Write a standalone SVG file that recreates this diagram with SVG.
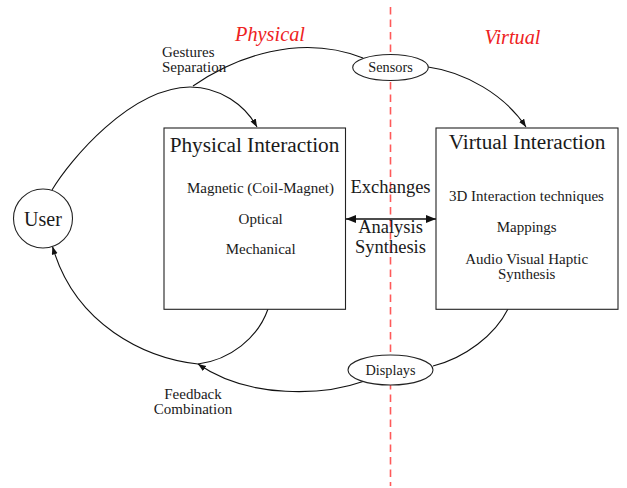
<svg xmlns="http://www.w3.org/2000/svg" width="627" height="488" viewBox="0 0 627 488">
<defs>
<style>
text{font-family:"Liberation Serif","Times New Roman",serif;fill:#1a1a1a;text-anchor:middle}
.sm{font-size:15px}
.md{font-size:18.5px}
.lg{font-size:21.3px}
.red{font-size:20.3px;font-style:italic;fill:#ee2222}
.edge{fill:none;stroke:#111;stroke-width:1.1}
.box{fill:#fff;stroke:#222;stroke-width:1.1}
.sep{stroke:#ff5a5a;stroke-width:1.6;stroke-dasharray:7.5 5}
</style>
<marker id="arr" markerUnits="userSpaceOnUse" markerWidth="10" markerHeight="8" refX="8" refY="3" orient="auto">
<path d="M0,0 L8,3 L0,6 Z" fill="#111"/>
</marker>
<marker id="arrBig" markerUnits="userSpaceOnUse" markerWidth="12" markerHeight="10" refX="10" refY="4" orient="auto-start-reverse">
<path d="M0,0 L10,4 L0,8 Z" fill="#111"/>
</marker>
</defs>
<rect width="627" height="488" fill="#fff"/>
<line class="sep" x1="390.5" y1="7" x2="390.5" y2="486"/>
<text class="red" x="270" y="41">Physical</text>
<text class="red" x="512.5" y="44">Virtual</text>
<g id="connectors">
<path class="edge" d="M52,190 C70,160 130,88 190,87 C220,87 245,105 257,127" marker-end="url(#arr)"/>
<path class="edge" d="M193,86 C235,57 300,33 363,58"/>
<path class="edge" d="M428,67 C465,72 505,95 526,127" marker-end="url(#arr)"/>
<path class="edge" d="M508,309 C495,335 465,358 433,366"/>
<path class="edge" d="M363,381.5 C325,395 250,400 198,364" marker-end="url(#arr)"/>
<path class="edge" d="M268,309 C258,338 230,360 198,364 C145,358 75,325 52.5,246.5" marker-end="url(#arr)"/>
<path d="M346,219 L436,219" fill="none" stroke="#111" stroke-width="1.7" marker-start="url(#arrBig)" marker-end="url(#arrBig)"/>
<text class="sm" x="162" y="57" style="text-anchor:start">Gestures</text>
<text class="sm" x="162" y="72" style="text-anchor:start">Separation</text>
<text class="sm" x="193" y="399">Feedback</text>
<text class="sm" x="193" y="414">Combination</text>
<text class="md" x="390.5" y="192.7">Exchanges</text>
<text class="md" x="390.5" y="233.3">Analysis</text>
<text class="md" x="390.5" y="252.7">Synthesis</text>
</g>
<g id="user">
<circle cx="43" cy="218.5" r="29.5" class="box"/>
<text class="lg" x="43" y="225.5" style="font-size:20px">User</text>
</g>
<g id="physical">
<rect class="box" x="164" y="128" width="181.5" height="181.3"/>
<text class="lg" x="254.5" y="151.7">Physical Interaction</text>
<text class="sm" x="260.5" y="193.3">Magnetic (Coil-Magnet)</text>
<text class="sm" x="260.7" y="224">Optical</text>
<text class="sm" x="260.7" y="254">Mechanical</text>
</g>
<g id="virtual">
<rect class="box" x="436" y="128" width="182" height="181.3"/>
<text class="lg" x="527" y="149.3">Virtual Interaction</text>
<text class="sm" x="526.5" y="200.7">3D Interaction techniques</text>
<text class="sm" x="526.7" y="232.3">Mappings</text>
<text class="sm" x="526.7" y="264">Audio Visual Haptic</text>
<text class="sm" x="526.7" y="278.7">Synthesis</text>
</g>
<g id="sensors">
<ellipse class="box" cx="390.5" cy="67.5" rx="37.8" ry="13"/>
<text class="sm" x="390.5" y="72.3" style="font-size:14.3px">Sensors</text>
</g>
<g id="displays">
<ellipse class="box" cx="390.5" cy="370" rx="42.5" ry="15"/>
<text class="sm" x="390.5" y="374.5" style="font-size:14.3px">Displays</text>
</g>
</svg>
